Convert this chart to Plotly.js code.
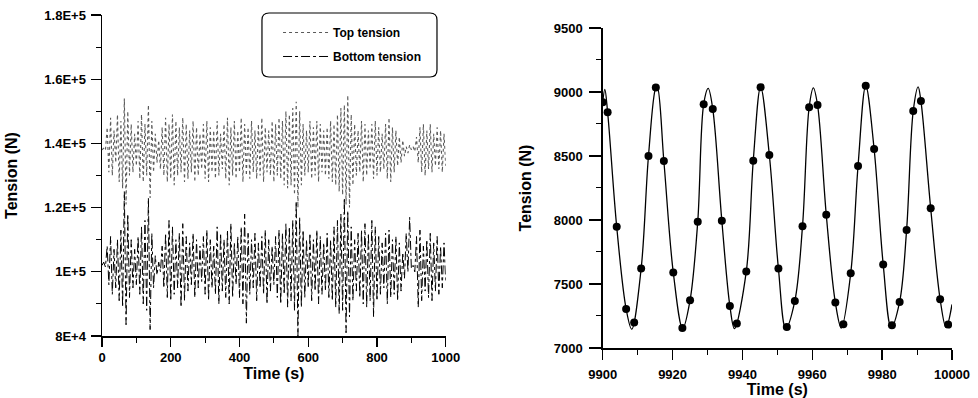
<!DOCTYPE html>
<html>
<head>
<meta charset="utf-8">
<script src="https://cdn.plot.ly/plotly-3.0.1.min.js"></script>
<style>html,body{margin:0;padding:0;background:#fff;}#chart{width:978px;height:398px;}</style>
</head>
<body>
<div id="chart"></div>
<script>
// ---------- Left panel data (tension in kN, sampled every 5 s from 0 to 1000 s) ----------
const timeStep = 5;
const topTensionKN = [
 138,138.5,137.8,145,131,148,130,144,134,149,
 128,147,126,154,121,150,130,146,131,143,
 133,147,129,149,128,146,130,152,123,147,
 131,143,134,141,132,145,130,148,128,146,
 129,149,127,147,130,145,131,148,128,146,
 129,144,131,147,128,145,130,143,132,146,
 129,147,128,145,131,144,129,147,130,143,
 132,146,129,148,127,145,130,147,129,144,
 131,148,128,146,130,145,129,147,131,144,
 129,146,130,148,128,145,131,144,130,147,
 128,146,130,148,129,147,127,150,126,149,
 127,151,124,153,120,150,127,146,130,144,
 131,147,129,145,130,147,128,146,131,144,
 130,145,129,147,128,146,127,149,125,151,
 124,152,121,155,120,149,127,146,130,144,
 131,147,128,146,130,144,132,146,129,147,
 130,145,131,143,132,146,129,148,128,145,
 131,144,133,142,134,141,136,139,137,139.5,
 138,139,137.5,142,134,145,131,146,130,144,
 132,146,131,143,133,145,132,144,131,143,
 133
];
const bottomTensionKN = [
 102,103,101.5,108,96,111,93,107,95,110,
 91,113,89,125,83.5,118,92,110,95,107,
 96,111,93,114,90,116,88,123,82,112,
 95,105,99,103,100,108,95,112,92,116,
 91,114,93,110,95,112,89,115,91,111,
 94,109,96,112,92,110,95,108,97,111,
 93,113,91,110,95,108,93,114,90,112,
 94,110,92,113,90,115,92,109,96,111,
 92,114,90,118,84,112,93,110,95,112,
 91,109,95,111,93,113,90,110,94,108,
 96,111,92,113,90,112,93,115,89,114,
 91,116,88,122,80,117,89,113,92,110,
 95,112,91,110,94,113,90,111,93,109,
 94,112,92,110,91,114,89,116,87,118,
 88,123,81,119,86,114,91,110,94,112,
 92,113,90,115,89,112,91,116,86,114,
 91,111,93,109,95,112,90,113,92,110,
 93,111,91,109,94,106,98,112,100,117,
 101,102,100,111,89,113,91,108,94,110,
 92,112,91,109,94,111,93,108,95,109,
 97
];
const leftYTickVals = [80000,100000,120000,140000,160000,180000];
const leftYTickText = ['8E+4','1E+5','1.2E+5','1.4E+5','1.6E+5','1.8E+5'];
const seriesNames = ['Top tension','Bottom tension'];

// ---------- Right panel data ----------
const curveTime = [9900.0,9900.6,9901.4,9904.0,9906.7,9908.3,9911.0,9913.1,9915.2,9915.6,9917.5,9920.2,9922.9,9925.0,9927.2,9928.9,9930.2,9931.5,9934.1,9936.4,9937.7,9941.1,9943.1,9945.2,9947.7,9950.3,9952.4,9955.0,9957.2,9959.1,9960.3,9961.5,9964.0,9966.6,9968.3,9971.0,9973.1,9975.3,9977.7,9980.3,9982.6,9985.0,9987.0,9988.9,9990.3,9991.1,9993.9,9996.6,9998.3,10000.0];
const curveTension = [8920,9020,8842,7947,7305,7147,7621,8500,9035,9042,8461,7590,7152,7373,7986,8905,9028,8868,7994,7329,7152,7598,8463,9038,8508,7621,7152,7368,7952,8881,9032,8899,8041,7355,7155,7584,8422,9048,8555,7653,7160,7360,7921,8852,9040,8930,8091,7381,7160,7340];
const pointTime = [9900.0,9901.4,9904.0,9906.7,9909.0,9911.0,9913.1,9915.2,9917.5,9920.2,9922.8,9925.0,9927.2,9928.9,9931.5,9934.1,9936.4,9938.4,9941.1,9943.1,9945.2,9947.7,9950.3,9952.7,9955.0,9957.2,9959.1,9961.5,9964.0,9966.6,9968.9,9971.0,9973.1,9975.3,9977.7,9980.3,9982.8,9985.0,9987.0,9988.9,9991.1,9993.9,9996.6,9998.9];
const pointTension = [8920,8842,7947,7305,7199,7621,8500,9035,8461,7590,7157,7373,7986,8905,8868,7994,7329,7191,7598,8463,9038,8508,7621,7164,7368,7952,8881,8899,8041,7355,7185,7584,8422,9048,8555,7653,7177,7360,7921,8852,8930,8091,7381,7183];

// ---------- build ----------
const timeGrid = topTensionKN.map((_, i) => i * timeStep);
const toN = a => a.map(v => v * 1000);

const FONT = 'Liberation Sans, Arial, Helvetica, sans-serif';
const tickFont = {family: FONT, size: 13, color: '#000', weight: 'bold'};
const titleFont = {family: FONT, size: 16, color: '#000', weight: 'bold'};

const traces = [
  {x: timeGrid, y: toN(topTensionKN), type: 'scatter', mode: 'lines', name: seriesNames[0],
   legendgroup: 'top', line: {color: '#5a5a5a', width: 1.1, dash: 'dot'}, xaxis: 'x', yaxis: 'y'},
  {x: timeGrid, y: toN(bottomTensionKN), type: 'scatter', mode: 'lines', name: seriesNames[1],
   legendgroup: 'bottom', line: {color: '#000', width: 1, dash: 'dashdot'}, xaxis: 'x', yaxis: 'y'},
  {x: curveTime, y: curveTension, type: 'scatter', mode: 'lines', showlegend: false,
   line: {color: '#000', width: 1.3, shape: 'spline', smoothing: 1}, xaxis: 'x2', yaxis: 'y2'},
  {x: pointTime, y: pointTension, type: 'scatter', mode: 'markers', showlegend: false,
   marker: {color: '#000', size: 8}, xaxis: 'x2', yaxis: 'y2'}
];

const L = 102, T = 15, W = 850, H = 333;
const X = v => ((v - L) / W).toFixed(4);
const Y = v => ((T + H - v) / H).toFixed(4);
function roundRect(x0, y0, x1, y1, r) {
  return `M${X(x0 + r)},${Y(y0)} L${X(x1 - r)},${Y(y0)} Q${X(x1)},${Y(y0)} ${X(x1)},${Y(y0 + r)} ` +
         `L${X(x1)},${Y(y1 - r)} Q${X(x1)},${Y(y1)} ${X(x1 - r)},${Y(y1)} L${X(x0 + r)},${Y(y1)} ` +
         `Q${X(x0)},${Y(y1)} ${X(x0)},${Y(y1 - r)} L${X(x0)},${Y(y0 + r)} Q${X(x0)},${Y(y0)} ${X(x0 + r)},${Y(y0)} Z`;
}

const axisBase = {
  showline: true, linecolor: '#000', linewidth: 1.5, showgrid: false, zeroline: false,
  ticks: 'outside', ticklen: 10, tickwidth: 1.3, tickcolor: '#000', tickfont: tickFont,
  fixedrange: true
};
const minorBase = {ticks: 'outside', ticklen: 5, tickwidth: 1, tickcolor: '#000', showgrid: false};

const layout = {
  width: 978, height: 398,
  margin: {l: L, r: 978 - L - W, t: T, b: 398 - T - H},
  paper_bgcolor: '#fff', plot_bgcolor: '#fff',
  showlegend: true,
  legend: {x: Number(X(278)), xanchor: 'left', y: Number(Y(18)), yanchor: 'top',
           bgcolor: 'rgba(0,0,0,0)', borderwidth: 0, tracegroupgap: 5, itemwidth: 45,
           traceorder: 'grouped',
           font: {family: FONT, size: 12, color: '#000', weight: 'bold'}},
  xaxis: Object.assign({}, axisBase, {
    domain: [0, X(445.7)], anchor: 'y', range: [0, 1000], tick0: 0, dtick: 200, ticklen: 9,
    minor: Object.assign({tick0: 0, dtick: 100}, minorBase),
    title: {text: 'Time (s)', font: titleFont, standoff: 2}
  }),
  yaxis: Object.assign({}, axisBase, {
    domain: [Y(336), 1], anchor: 'x', range: [80000, 180000],
    tickmode: 'array', tickvals: leftYTickVals, ticktext: leftYTickText, ticklabelstandoff: 2,
    minor: Object.assign({tickmode: 'linear', tick0: 80000, dtick: 10000}, minorBase),
    title: {text: 'Tension (N)', font: titleFont, standoff: 22}
  }),
  xaxis2: Object.assign({}, axisBase, {
    domain: [X(602.7), 1], anchor: 'y2', range: [9900, 10000], tick0: 9900, dtick: 20,
    tickformat: 'd', ticklabelstandoff: 4,
    minor: Object.assign({tick0: 9900, dtick: 10}, minorBase),
    title: {text: 'Time (s)', font: titleFont, standoff: 2}
  }),
  yaxis2: Object.assign({}, axisBase, {
    domain: [0, Y(28)], anchor: 'x2', range: [7000, 9500], tick0: 7000, dtick: 500,
    tickformat: 'd', ticklen: 12, ticklabelstandoff: 4,
    minor: Object.assign({tick0: 7000, dtick: 250}, minorBase),
    title: {text: 'Tension (N)', font: titleFont, standoff: 18}
  }),
  shapes: [{type: 'path', xref: 'paper', yref: 'paper', path: roundRect(262, 13, 437, 77, 7),
            line: {color: '#000', width: 1.2}, fillcolor: 'rgba(0,0,0,0)'}]
};

Plotly.newPlot('chart', traces, layout, {displayModeBar: false, staticPlot: true});
</script>
</body>
</html>
